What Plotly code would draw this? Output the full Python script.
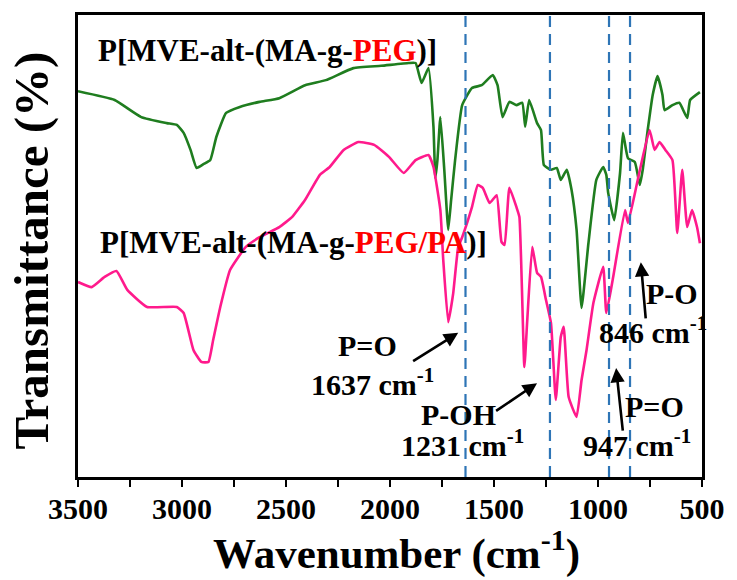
import plotly.graph_objects as go

# ---- data (wavenumber in cm^-1, transmittance in arbitrary %) ----
peg_wn = [3500, 3324, 3196, 3073, 3025, 2992, 2959, 2930, 2897, 2864, 2835, 2788, 2722, 2627,
          2532, 2408, 2308, 2176, 2043, 1910, 1877, 1848, 1815, 1791, 1782, 1772, 1758, 1739,
          1720, 1706, 1687, 1653, 1606, 1559, 1506, 1483, 1459, 1426, 1392, 1364, 1350, 1331,
          1293, 1274, 1260, 1226, 1198, 1179, 1150, 1127, 1103, 1079, 1046, 1008, 975, 960,
          951, 922, 894, 880, 856, 823, 799, 785, 761, 737, 714, 690, 680, 642, 609, 571, 557, 510]
peg_t = [83.5, 81.6, 77.9, 76.6, 76.2, 74.5, 70.8, 66.9, 67.7, 68.6, 73.6, 78.8, 80.1, 81.2,
         82.0, 84.8, 85.9, 88.5, 89.0, 89.6, 89.6, 85.3, 88.5, 75.8, 64.7, 68.6, 77.9, 66.5,
         53.5, 60.0, 68.6, 80.5, 84.2, 84.8, 87.0, 84.8, 77.9, 81.2, 80.5, 81.0, 75.8, 81.6,
         76.6, 75.1, 67.5, 66.5, 66.9, 64.3, 66.5, 62.1, 53.5, 36.6, 50.6, 64.3, 67.1, 65.4,
         61.5, 55.6, 65.8, 74.5, 69.0, 68.2, 63.2, 66.5, 75.1, 82.7, 86.8, 82.7, 79.4, 80.5,
         81.0, 77.7, 81.6, 83.3]

pa_wn = [3500, 3434, 3372, 3315, 3263, 3168, 3025, 2992, 2945, 2907, 2873, 2850, 2816, 2769,
         2693, 2627, 2532, 2470, 2408, 2337, 2290, 2223, 2152, 2076, 2005, 1934, 1877, 1815,
         1791, 1758, 1744, 1720, 1696, 1672, 1653, 1606, 1578, 1554, 1521, 1487, 1464, 1449,
         1426, 1392, 1378, 1354, 1340, 1316, 1293, 1274, 1250, 1226, 1203, 1179, 1165, 1141,
         1103, 1079, 1055, 1022, 975, 960, 927, 870, 856, 809, 752, 728, 704, 676, 642, 619,
         595, 571, 548, 524, 510]
pa_t = [42.2, 41.1, 43.3, 44.6, 40.5, 36.8, 36.8, 35.5, 27.5, 24.9, 24.9, 29.7, 36.8, 44.8,
        49.8, 51.9, 54.1, 56.3, 60.0, 65.4, 67.1, 70.8, 72.5, 71.9, 69.3, 65.8, 68.6, 69.7,
        67.1, 57.8, 47.0, 33.5, 39.8, 49.8, 51.9, 58.4, 63.2, 62.6, 59.3, 61.0, 50.9, 50.2,
        62.6, 58.4, 56.3, 23.8, 34.0, 49.8, 44.2, 43.3, 38.3, 33.3, 16.7, 30.3, 32.5, 17.3,
        13.0, 21.0, 27.5, 37.7, 45.5, 35.5, 43.3, 57.8, 55.0, 64.3, 75.1, 70.8, 72.5, 70.8,
        68.6, 52.8, 66.5, 54.1, 57.8, 54.1, 50.6]

marker_wn = [1637, 1231, 947, 846]
tick_vals = [3500, 3000, 2500, 2000, 1500, 1000, 500]
tick_text = ["3500", "3000", "2500", "2000", "1500", "1000", "500"]

FONT = "Liberation Serif"
GREEN = "#1f7d1f"
PINK = "#ff1a8c"
BLUE = "#2e75b6"

fig = go.Figure()
fig.add_trace(go.Scatter(x=peg_wn, y=peg_t, mode="lines", line_shape="spline",
                         line=dict(color=GREEN, width=2.6, smoothing=0.4), showlegend=False))
fig.add_trace(go.Scatter(x=pa_wn, y=pa_t, mode="lines", line_shape="spline",
                         line=dict(color=PINK, width=2.6, smoothing=0.4), showlegend=False))

for w in marker_wn:
    fig.add_shape(type="line", xref="x", yref="paper", x0=w, x1=w, y0=0, y1=1,
                  line=dict(color=BLUE, width=2.2, dash="11px,7px"), layer="above")

ann = []
def txt(x, y, s, size=30, xanchor="center"):
    ann.append(dict(x=x, y=y, xref="x", yref="y", text="<b>" + s + "</b>", showarrow=False,
                    xanchor=xanchor, yanchor="middle",
                    font=dict(family=FONT, size=size, color="black")))

def arrow(x0, y0, x1, y1):
    ann.append(dict(x=x1, y=y1, ax=x0, ay=y0, xref="x", yref="y", axref="x", ayref="y",
                    text="", showarrow=True, arrowhead=2, arrowsize=1.1, arrowwidth=2.6,
                    arrowcolor="black", standoff=0, startstandoff=0))

txt(3415, 92.4, "P[MVE-alt-(MA-g-<span style='color:#ff0000'>PEG</span>)]", size=31, xanchor="left")
txt(3405, 50.8, "P[MVE-alt-(MA-g-<span style='color:#ff0000'>PEG/PA</span>)]", size=31, xanchor="left")
txt(2109, 28.4, "P=O")
txt(2085, 20.6, "1637 cm<sup>-1</sup>")
txt(1672, 13.6, "P-OH")
txt(1653, 7.4, "1231 cm<sup>-1</sup>")
txt(728, 15.2, "P=O")
txt(813, 7.4, "947 cm<sup>-1</sup>")
txt(642, 39.8, "P-O")
txt(737, 31.8, "846 cm<sup>-1</sup>")

arrow(1896, 24.9, 1672, 31.2)
arrow(1497, 14.1, 1293, 20.3)
arrow(880, 9.7, 913, 23.6)
arrow(770, 34.0, 794, 46.5)

# axis titles
ann.append(dict(x=0.51, y=-0.16, xref="paper", yref="paper", showarrow=False,
                text="<b>Wavenumber (cm<sup>-1</sup>)</b>", xanchor="center", yanchor="middle",
                font=dict(family=FONT, size=43, color="black")))
ann.append(dict(x=-0.074, y=0.49, xref="paper", yref="paper", showarrow=False,
                text="<b>Transmittance (%)</b>", textangle=-90, xanchor="center", yanchor="middle",
                font=dict(family=FONT, size=49, color="black")))

fig.update_layout(
    width=737, height=580,
    margin=dict(l=78, r=27, t=15, b=103),
    paper_bgcolor="white", plot_bgcolor="white",
    annotations=ann,
    xaxis=dict(range=[3500, 500], autorange=False, tickmode="array",
               tickvals=tick_vals, ticktext=tick_text,
               ticks="outside", ticklen=7, tickwidth=2, tickcolor="black",
               minor=dict(dtick=250, ticks="outside", ticklen=7, tickwidth=2, tickcolor="black"),
               showline=True, linewidth=2.6, linecolor="black", mirror=True,
               showgrid=False, zeroline=False, ticklabelstandoff=-4,
               tickfont=dict(family=FONT, size=30, color="black", weight="bold")),
    yaxis=dict(range=[0, 100], showticklabels=False, ticks="",
               showline=True, linewidth=2.6, linecolor="black", mirror=True,
               showgrid=False, zeroline=False),
)

fig.write_html("out.html")
